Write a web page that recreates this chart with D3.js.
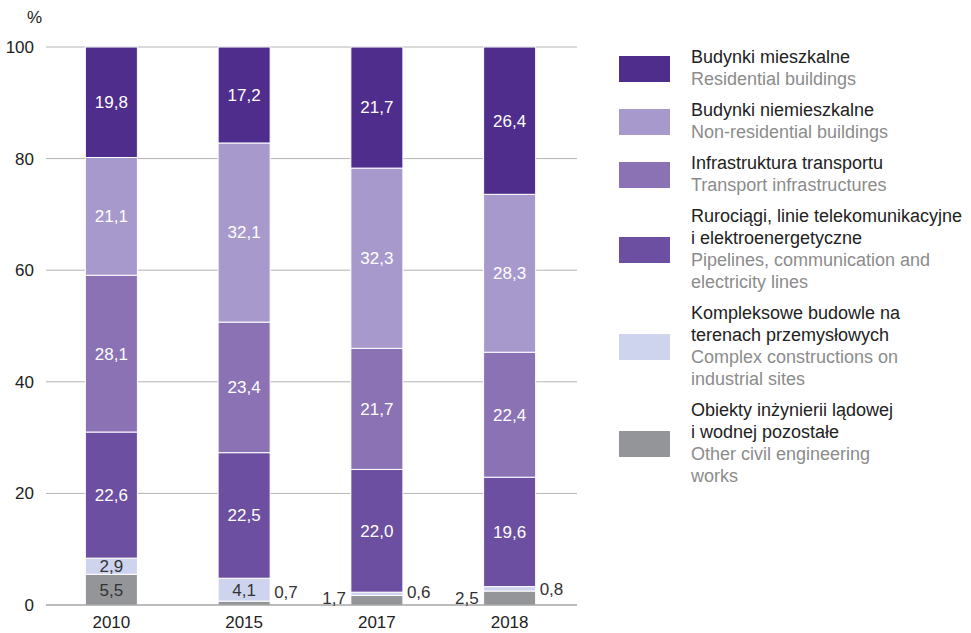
<!DOCTYPE html>
<html>
<head>
<meta charset="utf-8">
<script src="https://cdn.jsdelivr.net/npm/d3@7/dist/d3.min.js"></script>
<style>
  body { margin: 0; background: #fff; }
  svg text { font-family: "Liberation Sans", Arial, sans-serif; }
</style>
</head>
<body>
<div id="chart"></div>
<script>
// years on the x axis
var years = ["2010", "2015", "2017", "2018"];

// series, stacked bottom -> top
var seriesKeys = ["other", "complex", "pipelines", "transport", "nonres", "res"];
var other     = [5.5, 0.7, 1.7, 2.5];
var complex   = [2.9, 4.1, 0.6, 0.8];
var pipelines = [22.6, 22.5, 22.0, 19.6];
var transport = [28.1, 23.4, 21.7, 22.4];
var nonres    = [21.1, 32.1, 32.3, 28.3];
var res       = [19.8, 17.2, 21.7, 26.4];

var yTicks = [0, 20, 40, 60, 80, 100];

// legend, top -> bottom
var legendKeys = ["res", "nonres", "transport", "pipelines", "complex", "other"];
var legendPl = [
  ["Budynki mieszkalne"],
  ["Budynki niemieszkalne"],
  ["Infrastruktura transportu"],
  ["Rurociągi, linie telekomunikacyjne", "i elektroenergetyczne"],
  ["Kompleksowe budowle na", "terenach przemysłowych"],
  ["Obiekty inżynierii lądowej", "i wodnej pozostałe"]
];
var legendEn = [
  ["Residential buildings"],
  ["Non-residential buildings"],
  ["Transport infrastructures"],
  ["Pipelines, communication and", "electricity lines"],
  ["Complex constructions on", "industrial sites"],
  ["Other civil engineering", "works"]
];

var colour = d3.scaleOrdinal()
  .domain(seriesKeys)
  .range(["#939598", "#cfd4ee", "#6c4fa0", "#8a72b4", "#a899cc", "#4f2d8c"]);

var darkText = { other: true, complex: true };

var width = 971, height = 633;

var svg = d3.select("#chart").append("svg")
  .attr("width", width)
  .attr("height", height);

var x = d3.scaleBand()
  .domain(years)
  .range([45, 576])
  .paddingInner(0.608)
  .paddingOuter(0.304);

var y = d3.scaleLinear()
  .domain([0, 100])
  .range([605, 47]);

// build rows for the stack
var values = { other: other, complex: complex, pipelines: pipelines, transport: transport, nonres: nonres, res: res };
var rows = years.map(function (yr, i) {
  var r = { year: yr };
  seriesKeys.forEach(function (k) { r[k] = values[k][i]; });
  return r;
});
var stacked = d3.stack().keys(seriesKeys)(rows);

// grid
svg.append("g").selectAll("line")
  .data(yTicks.filter(function (t) { return t > 0; }))
  .enter().append("line")
  .attr("x1", 46).attr("x2", 577)
  .attr("y1", function (d) { return y(d); })
  .attr("y2", function (d) { return y(d); })
  .attr("stroke", "#b3b3b3")
  .attr("stroke-width", 1);

// y labels
svg.append("g").selectAll("text")
  .data(yTicks)
  .enter().append("text")
  .attr("x", 34)
  .attr("y", function (d) { return y(d); })
  .attr("dy", "0.35em")
  .attr("text-anchor", "end")
  .style("font-size", "17px")
  .style("fill", "#222")
  .text(function (d) { return d; });

svg.append("text")
  .attr("x", 42).attr("y", 17).attr("dy", "0.35em")
  .attr("text-anchor", "end")
  .style("font-size", "17px").style("fill", "#222")
  .text("%");

// bars
var layers = svg.append("g").selectAll("g")
  .data(stacked)
  .enter().append("g")
  .attr("fill", function (d) { return colour(d.key); });

layers.selectAll("rect")
  .data(function (d) { return d; })
  .enter().append("rect")
  .attr("x", function (d) { return x(d.data.year); })
  .attr("width", x.bandwidth())
  .attr("y", function (d) { return y(d[1]); })
  .attr("height", function (d) { return y(d[0]) - y(d[1]); })
  .attr("stroke", "#fff")
  .attr("stroke-width", 1);

// baseline
svg.append("line")
  .attr("x1", 46).attr("x2", 577)
  .attr("y1", y(0)).attr("y2", y(0))
  .attr("stroke", "#7a7a7a").attr("stroke-width", 1.2);

// x labels
svg.append("g").selectAll("text")
  .data(years)
  .enter().append("text")
  .attr("x", function (d) { return x(d) + x.bandwidth() / 2; })
  .attr("y", 622)
  .attr("dy", "0.35em")
  .attr("text-anchor", "middle")
  .style("font-size", "17px")
  .style("fill", "#222")
  .text(function (d) { return d; });

// value labels
function fmt(v) { return v.toFixed(1).replace(".", ","); }
function inside(v) { return v >= 2.8; }

stacked.forEach(function (layer) {
  layer.forEach(function (d, i) {
    var v = d[1] - d[0];
    var key = layer.key;
    var cx = x(d.data.year);
    var cy = (y(d[0]) + y(d[1])) / 2;
    var t = svg.append("text")
      .attr("dy", "0.35em")
      .style("font-size", "17px")
      .text(fmt(v));
    if (inside(v)) {
      t.attr("x", cx + x.bandwidth() / 2).attr("y", cy)
        .attr("text-anchor", "middle")
        .style("fill", darkText[key] ? "#333" : "#fff");
    } else {
      var side = "right";
      if (key === "other" && !inside(complex[i])) side = "left";
      if (side === "left") {
        t.attr("x", cx - 5).attr("y", Math.min(cy, 598))
          .attr("text-anchor", "end");
      } else {
        t.attr("x", cx + x.bandwidth() + 4).attr("y", Math.min(cy, 592))
          .attr("text-anchor", "start");
      }
      t.style("fill", "#333");
    }
  });
});

// legend
var lineH = 22;
var ly = 57;
legendKeys.forEach(function (k, i) {
  var lines = legendPl[i].concat(legendEn[i]);
  var mid = ly + (lines.length - 1) * lineH / 2;
  svg.append("rect")
    .attr("x", 619).attr("y", mid - 12)
    .attr("width", 51).attr("height", 26)
    .attr("fill", colour(k));
  lines.forEach(function (s, j) {
    svg.append("text")
      .attr("x", 691)
      .attr("y", ly + j * lineH)
      .attr("dy", "0.35em")
      .style("font-size", "18px")
      .style("fill", j < legendPl[i].length ? "#222" : "#8c8c8c")
      .text(s);
  });
  ly += lines.length * lineH + 9;
});
</script>
</body>
</html>
